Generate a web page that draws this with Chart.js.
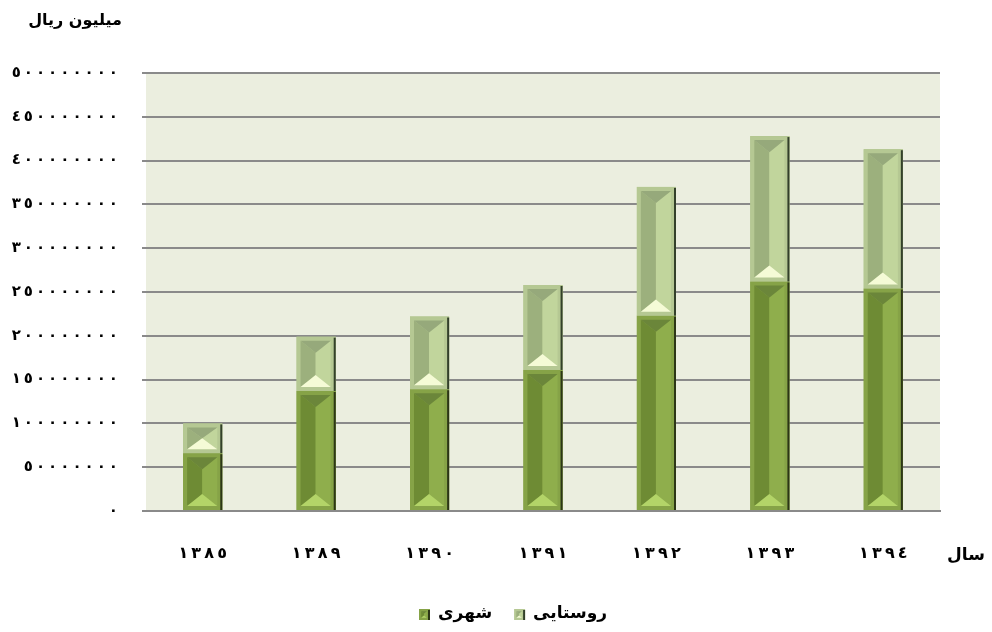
<!DOCTYPE html>
<html>
<head>
<meta charset="utf-8">
<script src="https://cdn.jsdelivr.net/npm/chart.js@4.4.0/dist/chart.umd.min.js"></script>
<style>
  html, body { margin: 0; padding: 0; background: #ffffff; }
  #wrap { position: relative; width: 992px; height: 632px; }
</style>
</head>
<body>
<div id="wrap"><canvas id="c"></canvas></div>
<script>
// ---- Data ----
const categories = ['١٣٨٥', '١٣٨٩', '١٣٩٠', '١٣٩١', '١٣٩٢', '١٣٩٣', '١٣٩٤'];
const urbanValues = [66000000, 137000000, 139000000, 161000000, 223000000, 262000000, 254000000];
const ruralValues = [34000000, 62000000, 83000000, 97000000, 147000000, 166000000, 159000000];
const seriesNames = ['شهری', 'روستایی'];
const yAxisTitle = 'میلیون ریال';
const xAxisTitle = 'سال';
const arabicDigits = ['٠', '١', '٢', '٣', '٤', '٥', '٦', '٧', '٨', '٩'];

const FONT = '"DejaVu Sans", sans-serif';

// detect working canvas letterSpacing; otherwise space digits with thin spaces (kept in LTR order)
const spacingWorks = (() => {
  try {
    const t = document.createElement('canvas').getContext('2d');
    t.font = 'bold 15px ' + FONT;
    const a = t.measureText('٠٠٠٠').width;
    t.letterSpacing = '5px';
    const b = t.measureText('٠٠٠٠').width;
    return b - a > 5;
  } catch (e) { return false; }
})();

function spaced(s) {
  return spacingWorks ? s : Array.from(s).join('\u2009\u200E');
}
function toArabic(n) {
  return String(n).replace(/[0-9]/g, d => arabicDigits[+d]);
}

const palettes = [
  { base: '#7f9e3e', frame: '#86a347', left: '#6e8b34', right: '#8fae4c', top: '#6b863a', bottom: '#b3d468', shadow: '#2c3616' },
  { base: '#adc287', frame: '#b5c893', left: '#9cb07d', right: '#c1d59c', top: '#96a97b', bottom: '#f5fbd6', shadow: '#33402a' }
];

function bevel(ctx, L, R, T, B, pal) {
  const w = R - L, h = B - T;
  if (w <= 0 || h <= 0) return;
  ctx.save();
  ctx.fillStyle = pal.frame;
  ctx.fillRect(L, T, w, h);
  const ins = Math.min(4, w / 5, h / 5);
  const l = L + ins, r = R - ins - 1, t = T + ins, b = B - ins;
  const cx = (l + r) / 2;
  const ih = b - t;
  const d = Math.min((r - l) * 0.4, ih / 2);
  ctx.fillStyle = pal.left;
  ctx.beginPath(); ctx.moveTo(l, t); ctx.lineTo(cx, t + d); ctx.lineTo(cx, b - d); ctx.lineTo(l, b); ctx.closePath(); ctx.fill();
  ctx.fillStyle = pal.right;
  ctx.beginPath(); ctx.moveTo(r, t); ctx.lineTo(cx, t + d); ctx.lineTo(cx, b - d); ctx.lineTo(r, b); ctx.closePath(); ctx.fill();
  ctx.fillStyle = pal.top;
  ctx.beginPath(); ctx.moveTo(l, t); ctx.lineTo(r, t); ctx.lineTo(cx, t + d); ctx.closePath(); ctx.fill();
  ctx.fillStyle = pal.bottom;
  ctx.beginPath(); ctx.moveTo(l, b); ctx.lineTo(r, b); ctx.lineTo(cx, b - d); ctx.closePath(); ctx.fill();
  ctx.fillStyle = pal.shadow;
  ctx.fillRect(R - 2, T + 1, 2, h - 1);
  ctx.restore();
}

const decorPlugin = {
  id: 'decor',
  beforeDraw(chart) {
    const { ctx, chartArea: a } = chart;
    ctx.save();
    ctx.fillStyle = '#ebeedf';
    ctx.fillRect(a.left, a.top, a.right - a.left, a.bottom - a.top);
    ctx.restore();
    if (spacingWorks) ctx.letterSpacing = '3px';
  },
  beforeDatasetsDraw(chart) {
    if (spacingWorks) chart.ctx.letterSpacing = '0px';
  },
  afterDatasetsDraw(chart) {
    const ctx = chart.ctx;
    chart.data.datasets.forEach((ds, i) => {
      const meta = chart.getDatasetMeta(i);
      meta.data.forEach(el => {
        const p = el.getProps(['x', 'y', 'base', 'width'], true);
        bevel(ctx, p.x - p.width / 2, p.x + p.width / 2, Math.min(p.y, p.base), Math.max(p.y, p.base), palettes[i]);
      });
    });
  },
  afterDraw(chart) {
    const { ctx } = chart;
    ctx.save();
    if (spacingWorks) ctx.letterSpacing = '0px';
    ctx.fillStyle = '#000';
    ctx.textBaseline = 'middle';
    ctx.font = 'bold 16px ' + FONT;
    ctx.textAlign = 'right';
    ctx.fillText(yAxisTitle, 122, 21);
    ctx.font = 'bold 17px ' + FONT;
    ctx.textAlign = 'left';
    ctx.fillText(xAxisTitle, 947, 556);
    // legend
    ctx.font = 'bold 17px ' + FONT;
    let x = 419;
    const y = 614;
    chart.data.datasets.forEach((ds, i) => {
      bevel(ctx, x, x + 11, y - 5, y + 6, palettes[i]);
      ctx.fillStyle = '#000';
      ctx.textAlign = 'left';
      x += 19;
      ctx.fillText(ds.label, x, y);
      x += ctx.measureText(ds.label).width + 22;
    });
    ctx.restore();
  }
};

new Chart(document.getElementById('c'), {
  type: 'bar',
  data: {
    labels: categories,
    datasets: [
      { label: seriesNames[0], data: urbanValues, backgroundColor: palettes[0].base, borderWidth: 0 },
      { label: seriesNames[1], data: ruralValues, backgroundColor: palettes[1].base, borderWidth: 0 }
    ]
  },
  plugins: [decorPlugin],
  options: {
    responsive: true,
    maintainAspectRatio: false,
    animation: false,
    datasets: { bar: { categoryPercentage: 1, barPercentage: 0.345 } },
    layout: { padding: { left: 0, right: 52, top: 73, bottom: 60 } },
    plugins: { legend: { display: false }, tooltip: { enabled: false }, title: { display: false } },
    scales: {
      x: {
        stacked: true,
        grid: { display: false },
        border: { display: true, color: '#8a8a8a', width: 2 },
        ticks: {
          color: '#000', font: { family: FONT, size: 16, weight: 'bold' }, padding: 25,
          callback: function (v) { return spaced(this.getLabelForValue(v)); }
        },
        afterFit(s) { s.height = 61; }
      },
      y: {
        stacked: true,
        min: 0,
        max: 500000000,
        grid: { color: '#8a8a8a', lineWidth: 2, tickLength: 4, drawTicks: true },
        border: { display: false },
        ticks: {
          stepSize: 50000000,
          color: '#000',
          padding: 24,
          font: { family: FONT, size: 15, weight: 'bold' },
          callback: v => spaced(toArabic(v))
        },
        afterFit(s) { s.width = 146; }
      }
    }
  }
});
</script>
</body>
</html>
